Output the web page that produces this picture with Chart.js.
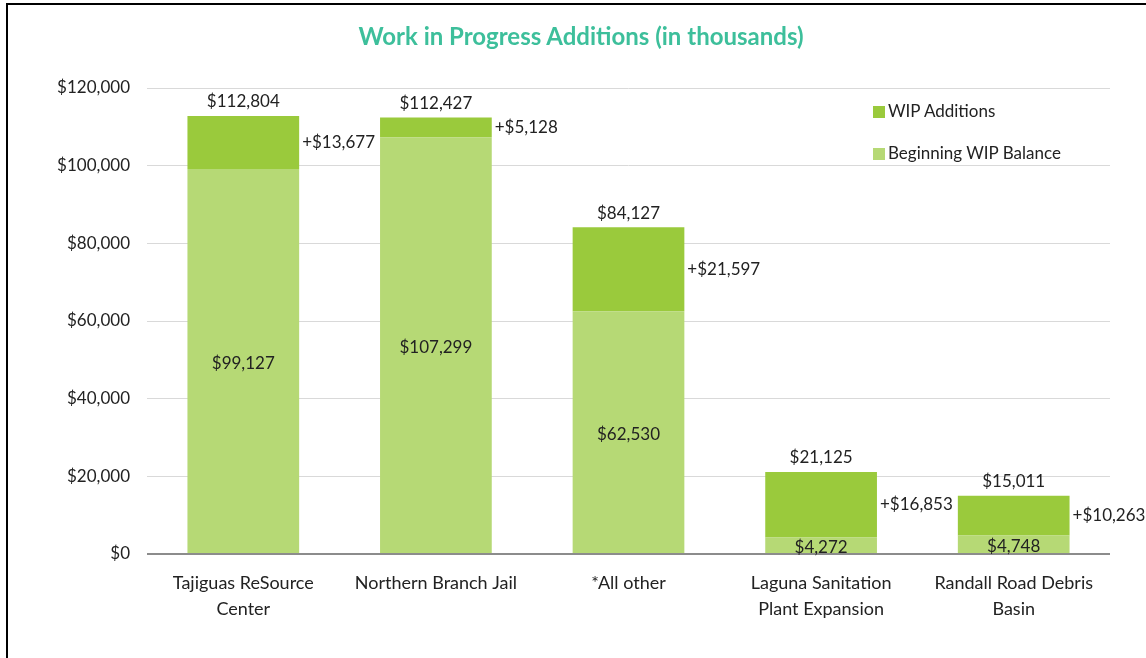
<!DOCTYPE html>
<html>
<head>
<meta charset="utf-8">
<script src="https://cdn.jsdelivr.net/npm/chart.js@4"></script>
<style>
    body { margin: 0; background: #fff; font-family: Lato, "Open Sans", sans-serif; }
    #wrap { position: relative; width: 1146px; height: 658px; overflow: hidden; }
    #frame { position: absolute; left: 6px; top: 3px; width: 1200px; height: 700px;
             border-left: 2px solid #000; border-top: 2px solid #000; }
    #title { position: absolute; left: 0; width: 1162px; top: 21px; text-align: center;
             color: #3dbf9b; font-size: 24px; font-weight: bold; }
    #legend { position: absolute; left: 873px; top: 100px; font-size: 17px; color: #222; }
    #legend div { height: 42px; display: flex; align-items: flex-start; }
    #legend span.box { display: inline-block; width: 12px; height: 12px; margin: 6px 3px 0 0; }
    canvas { position: absolute; left: 0; top: 0; }
</style>
</head>
<body>
<div id="wrap">
    <div id="frame"></div>
    <canvas id="chart" width="1146" height="658"></canvas>
    <div id="title">Work in Progress Additions (in thousands)</div>
    <div id="legend"></div>
</div>
<script>
// chart data
const categories = [
    ["Tajiguas ReSource", "Center"],
    ["Northern Branch Jail"],
    ["*All other"],
    ["Laguna Sanitation", "Plant Expansion"],
    ["Randall Road Debris", "Basin"]
];
const beginningBalance = [99127, 107299, 62530, 4272, 4748];
const wipAdditions = [13677, 5128, 21597, 16853, 10263];
const totals = [112804, 112427, 84127, 21125, 15011];

const darkGreen = '#9aca3c';
const lightGreen = '#b6d975';

function money(v) {
    return '$' + v.toLocaleString('en-US');
}

// simple legend, additions listed first like the original
const legendDiv = document.getElementById('legend');
[['WIP Additions', darkGreen], ['Beginning WIP Balance', lightGreen]].forEach(item => {
    const row = document.createElement('div');
    const box = document.createElement('span');
    box.className = 'box';
    box.style.background = item[1];
    row.appendChild(box);
    const label = document.createElement('span');
    label.textContent = item[0];
    row.appendChild(label);
    legendDiv.appendChild(row);
});

// draws value labels next to the bars
const barLabels = {
    id: 'barLabels',
    afterDatasetsDraw(chart) {
        const ctx = chart.ctx;
        const baseBars = chart.getDatasetMeta(0).data;
        const addBars = chart.getDatasetMeta(1).data;
        ctx.save();
        ctx.font = '17px Lato, "Open Sans", sans-serif';
        ctx.fillStyle = '#222';
        ctx.textBaseline = 'middle';
        baseBars.forEach((bar, i) => {
            const top = addBars[i];
            // beginning balance inside lower part
            ctx.textAlign = 'center';
            ctx.fillText(money(beginningBalance[i]), bar.x, (bar.y + bar.base) / 2 + 2);
            // total above
            ctx.fillText(money(totals[i]), top.x, top.y - 14);
            // additions to the right
            ctx.textAlign = 'left';
            ctx.fillText('+' + money(wipAdditions[i]), top.x + top.width / 2 + 3, (top.y + top.base) / 2);
        });
        ctx.restore();
    }
};

new Chart(document.getElementById('chart'), {
    type: 'bar',
    data: {
        labels: categories,
        datasets: [
            {
                label: 'Beginning WIP Balance',
                data: beginningBalance,
                backgroundColor: lightGreen,
                categoryPercentage: 1,
                barPercentage: 0.58
            },
            {
                label: 'WIP Additions',
                data: wipAdditions,
                backgroundColor: darkGreen,
                categoryPercentage: 1,
                barPercentage: 0.58
            }
        ]
    },
    options: {
        responsive: false,
        animation: false,
        layout: { padding: { left: 0, right: 36, top: 88, bottom: 0 } },
        plugins: {
            legend: { display: false },
            tooltip: { enabled: false }
        },
        scales: {
            x: {
                stacked: true,
                grid: { display: false },
                border: { display: false },
                ticks: {
                    color: '#222',
                    padding: 9,
                    maxRotation: 0,
                    font: { family: 'Lato, "Open Sans", sans-serif', size: 18, lineHeight: 1.4 }
                },
                afterFit: scale => { scale.height = 104; }
            },
            y: {
                stacked: true,
                min: 0,
                max: 120000,
                border: { display: false },
                grid: {
                    drawTicks: false,
                    color: c => c.tick.value === 0 ? '#8c8c8c' : '#d9d9d9',
                    lineWidth: c => c.tick.value === 0 ? 2 : 1
                },
                ticks: {
                    stepSize: 20000,
                    padding: 17,
                    color: '#222',
                    font: { family: 'Lato, "Open Sans", sans-serif', size: 17 },
                    callback: v => money(v)
                },
                afterFit: scale => { scale.width = 147; }
            }
        }
    },
    plugins: [barLabels]
});
</script>
</body>
</html>
